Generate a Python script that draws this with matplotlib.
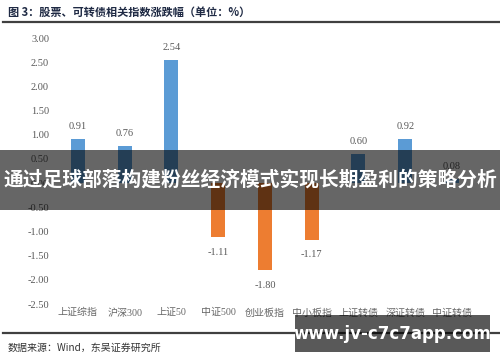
import matplotlib
matplotlib.use("Agg")
import matplotlib.pyplot as plt
from matplotlib.lines import Line2D
from matplotlib.patches import Rectangle

categories = ["上证综指", "沪深300", "上证50", "中证500", "创业板指", "中小板指", "上证转债", "深证转债", "中证转债"]
values = [0.91, 0.76, 2.54, -1.11, -1.80, -1.17, 0.60, 0.92, 0.08]
yticks = [3.00, 2.50, 2.00, 1.50, 1.00, 0.50, 0.00, -0.50, -1.00, -1.50, -2.00, -2.50]

BLUE = "#5B9BD5"
ORANGE = "#ED7D31"
GRAY = "#595959"
CJK = ["Noto Sans CJK SC", "DejaVu Sans"]
SERIF = ["Liberation Serif", "Noto Sans CJK SC"]

fig = plt.figure(figsize=(5.0, 3.62), dpi=100)
ax = fig.add_axes([0.1092, 0.1602, 0.8415, 0.7348])

colors = [BLUE if v >= 0 else ORANGE for v in values]
x = list(range(len(values)))
ax.bar(x, values, width=0.30, color=colors, zorder=2)
ax.set_xlim(-0.5, 8.5)
ax.set_ylim(-2.5, 3.0)
ax.set_yticks(yticks)
ax.set_yticklabels([f"{t:.2f}" for t in yticks], family=SERIF, fontsize=7.5, color=GRAY)
ax.set_xticks(x)
ax.set_xticklabels(categories, family=SERIF, fontsize=7.2, color="#666666")
ax.tick_params(axis="both", length=0)
ax.tick_params(axis="y", pad=4)
ax.tick_params(axis="x", pad=3)
for s in ax.spines.values():
    s.set_visible(False)

for xi, v in zip(x, values):
    off = 9 if v >= 0 else -11
    ax.annotate(f"{v:.2f}", (xi, v), xytext=(0, off), textcoords="offset points",
                ha="center", va="center", family=SERIF, fontsize=7.5, color=GRAY)

# header & footer
fig.text(8 / 500, 1 - 12 / 362, "图 3：股票、可转债相关指数涨跌幅（单位：%）", family=CJK,
         fontsize=8, fontweight="bold", color="#1F2A44", ha="left", va="center")
fig.add_artist(Line2D([3 / 500, 1.0], [1 - 22 / 362] * 2, color="#404040", lw=1.6))
fig.add_artist(Line2D([3 / 500, 1.0], [1 - 333 / 362] * 2, color="#404040", lw=1.6))
fig.text(8 / 500, 1 - 348 / 362, "数据来源：Wind，东吴证券研究所", family=CJK,
         fontsize=7.2, color="#333333", ha="left", va="center")

# overlays
fig.add_artist(Rectangle((0, 1 - 210 / 362), 1.0, 60 / 362, transform=fig.transFigure,
                         facecolor="black", alpha=0.6, edgecolor="none", zorder=5))
fig.text(0.5, 1 - 180 / 362, "通过足球部落构建粉丝经济模式实现长期盈利的策略分析", family=CJK,
         fontsize=14.2, fontweight="bold", color="white", ha="center", va="center", zorder=6)
fig.add_artist(Rectangle((295 / 500, 1 - 352 / 362), 195 / 500, 37 / 362, transform=fig.transFigure,
                         facecolor="black", alpha=0.65, edgecolor="none", zorder=5))
fig.text(392 / 500, 1 - 334 / 362, "www.jv-c7c7app.com", family=["DejaVu Sans"],
         fontsize=12, fontweight="bold", color="white", ha="center", va="center", zorder=6)

fig.savefig("out.png", dpi=100)
